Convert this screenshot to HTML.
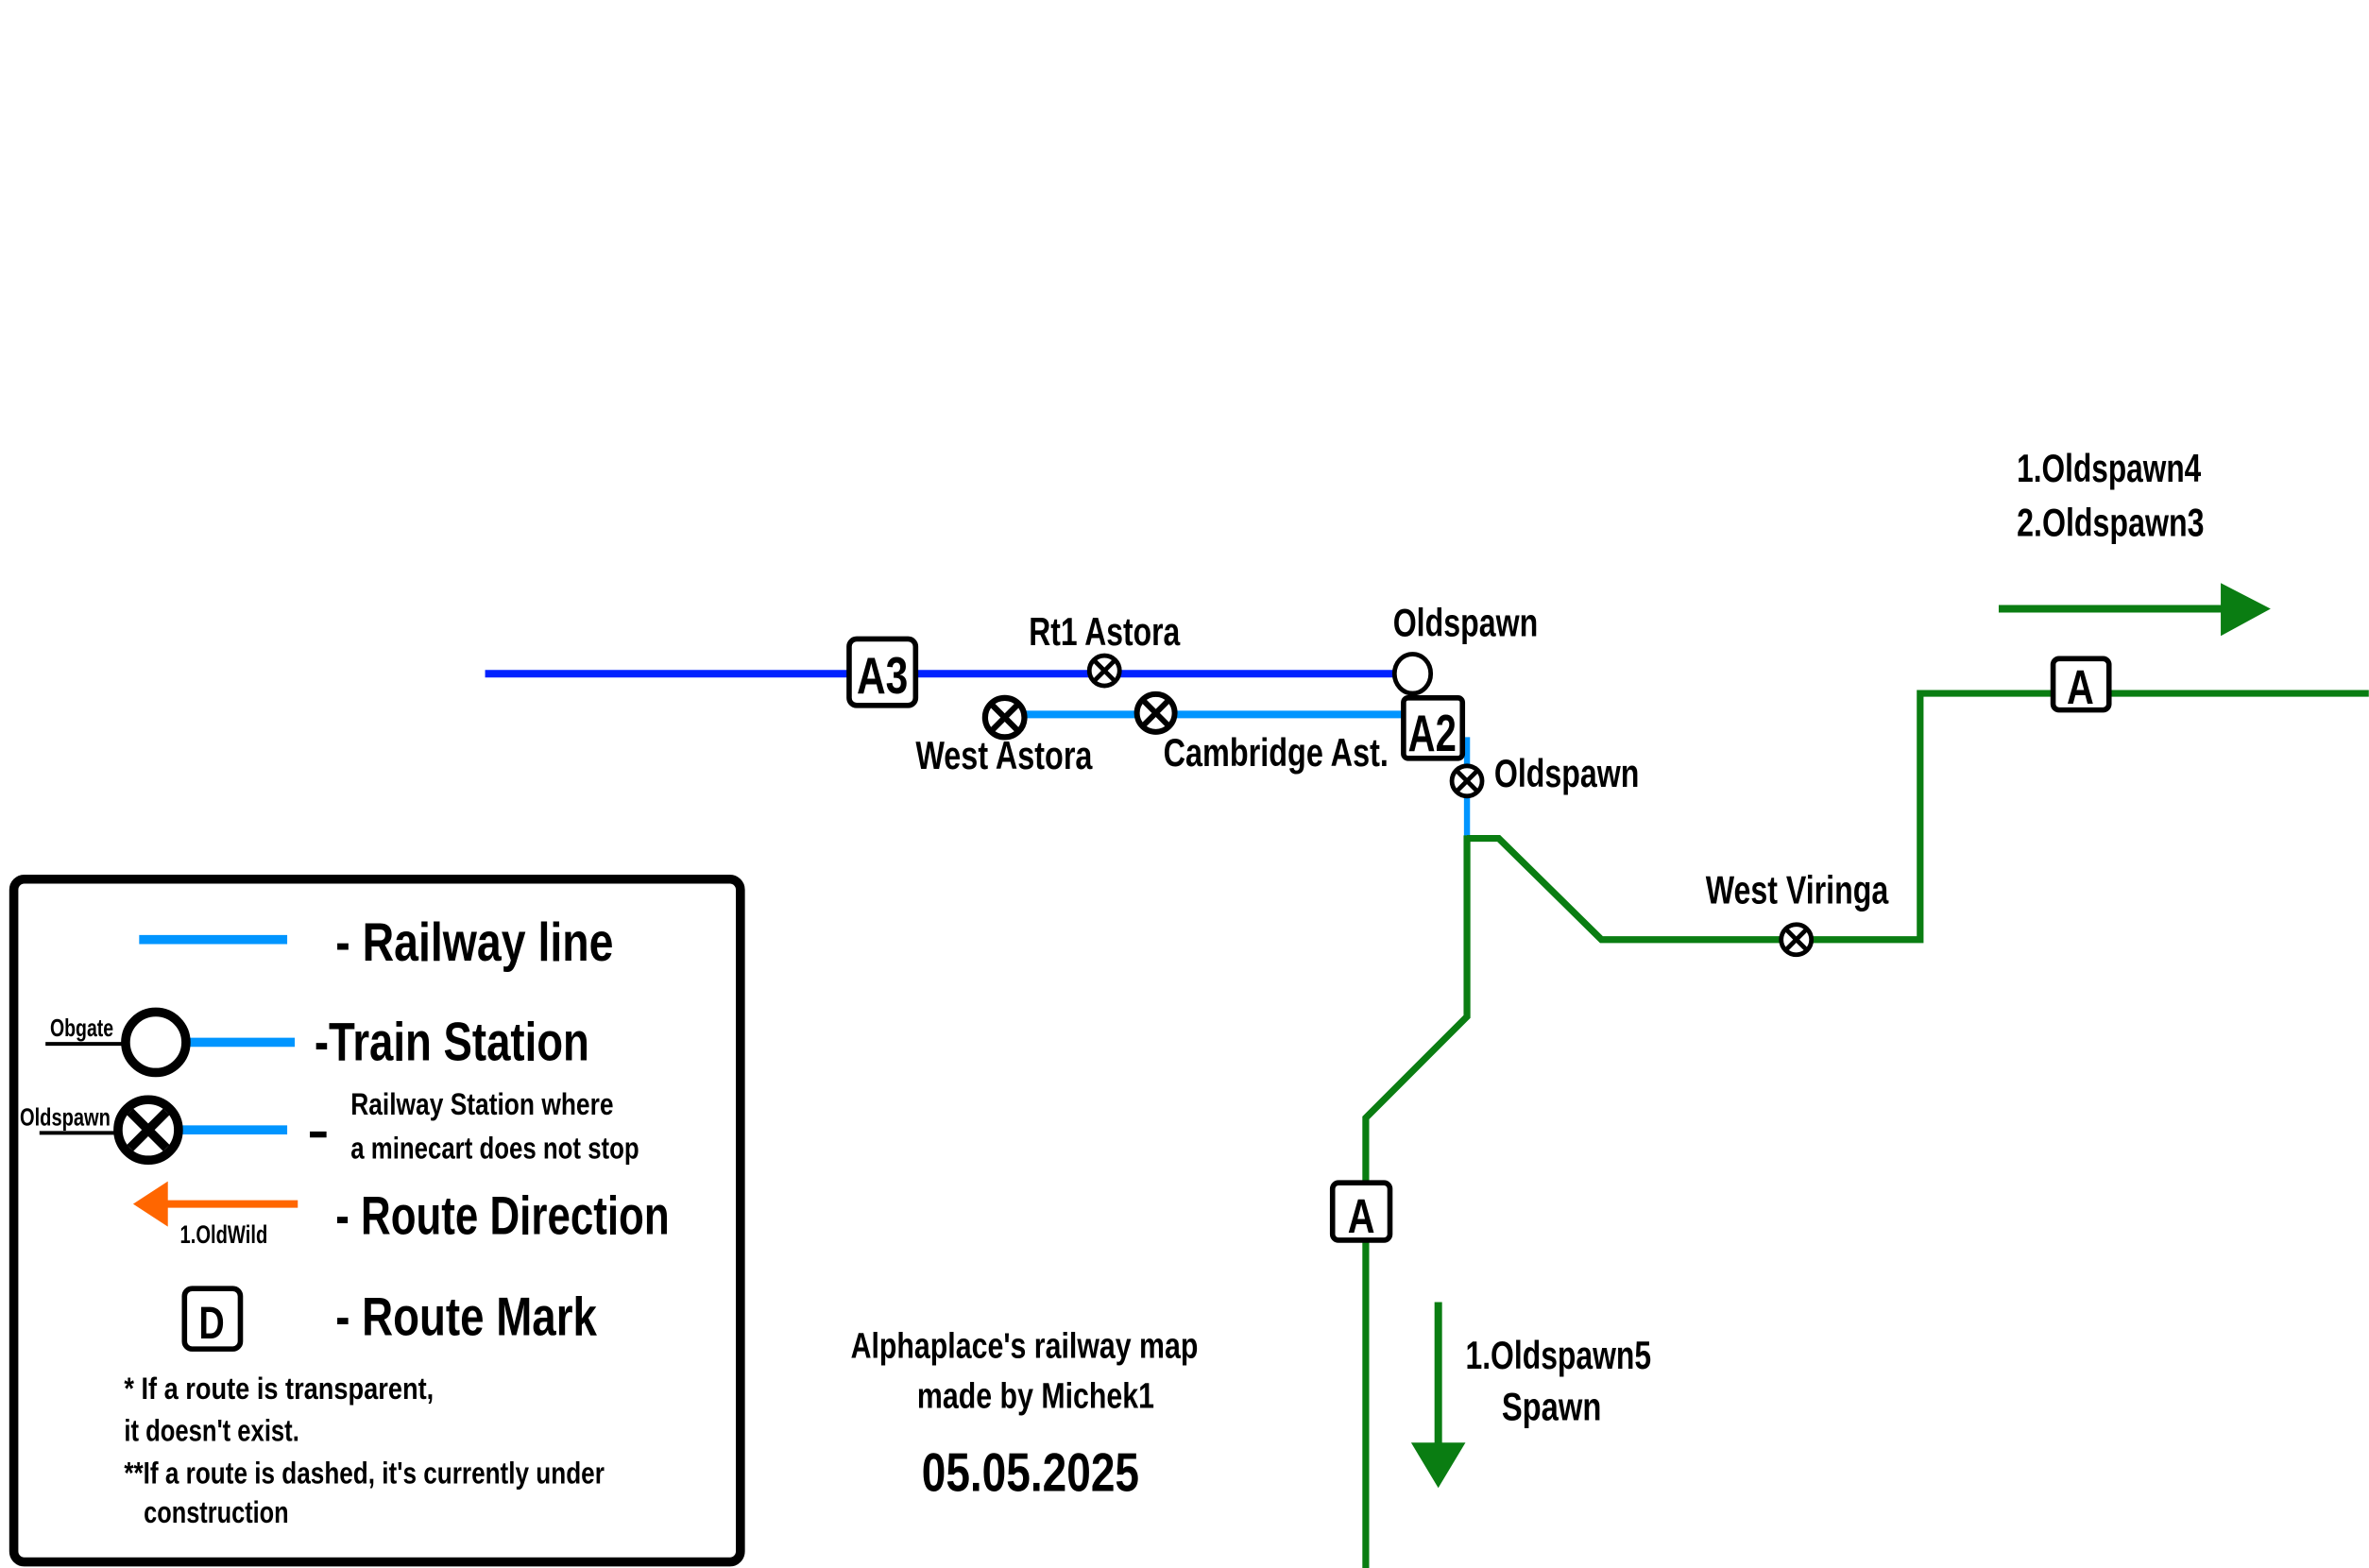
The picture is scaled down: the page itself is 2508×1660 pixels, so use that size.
<!DOCTYPE html>
<html><head><meta charset="utf-8"><style>
html,body{margin:0;padding:0;background:#fff}
svg{display:block}
text{font-family:"Liberation Sans Narrow","Liberation Sans",sans-serif;font-weight:bold;fill:#000}
</style></head><body>
<svg width="2508" height="1660" viewBox="0 0 1568 1038" xmlns="http://www.w3.org/2000/svg">
<defs>
<g id="xs"><circle cx="0" cy="0" r="10" fill="#fff" stroke="#000" stroke-width="3"/><line x1="-6.5" y1="-6.5" x2="6.5" y2="6.5" stroke="#000" stroke-width="3"/><line x1="6.5" y1="-6.5" x2="-6.5" y2="6.5" stroke="#000" stroke-width="3"/></g>
</defs>
<!-- dark blue line -->
<line x1="321" y1="446" x2="935" y2="446" stroke="#0022ff" stroke-width="5"/>
<!-- light blue -->
<line x1="665" y1="473" x2="935" y2="473" stroke="#0095ff" stroke-width="5"/>
<line x1="971" y1="488" x2="971" y2="555" stroke="#0095ff" stroke-width="4"/>
<!-- green -->
<polyline points="971,553 971,673 904,740 904,1038" fill="none" stroke="#0a7d12" stroke-width="4.5"/>
<polyline points="971,555 992,555 1060,622 1271,622 1271,459 1568,459" fill="none" stroke="#0a7d12" stroke-width="4.5"/>
<!-- stations -->
<use href="#xs" transform="translate(731,444)"/>
<ellipse cx="935" cy="446" rx="12" ry="13" fill="#fff" stroke="#000" stroke-width="3"/>
<use href="#xs" transform="translate(665,475) scale(1.3)"/>
<use href="#xs" transform="translate(765,472) scale(1.25)"/>
<use href="#xs" transform="translate(971,517)"/>
<use href="#xs" transform="translate(1189,622)"/>
<!-- route marks -->
<rect x="562" y="423" width="44" height="44" rx="5" fill="#fff" stroke="#000" stroke-width="3.5"/>
<text x="584" y="459" font-size="34" text-anchor="middle" textLength="34" lengthAdjust="spacingAndGlyphs">A3</text>
<rect x="929" y="462" width="39" height="40" rx="3" fill="#fff" stroke="#000" stroke-width="3.5"/>
<text x="948" y="497" font-size="34" text-anchor="middle" textLength="32" lengthAdjust="spacingAndGlyphs">A2</text>
<rect x="1359" y="436" width="37" height="34" rx="4" fill="#fff" stroke="#000" stroke-width="3.5"/>
<text x="1377" y="466" font-size="32" text-anchor="middle" textLength="18" lengthAdjust="spacingAndGlyphs">A</text>
<rect x="882" y="783" width="38" height="38" rx="4" fill="#fff" stroke="#000" stroke-width="3.5"/>
<text x="901" y="816" font-size="32" text-anchor="middle" textLength="18" lengthAdjust="spacingAndGlyphs">A</text>
<!-- labels -->
<text x="681" y="427" font-size="26" textLength="100" lengthAdjust="spacingAndGlyphs">Rt1 Astora</text>
<text x="922" y="421" font-size="26" textLength="96" lengthAdjust="spacingAndGlyphs">Oldspawn</text>
<text x="606" y="509" font-size="26" textLength="117" lengthAdjust="spacingAndGlyphs">West Astora</text>
<text x="770" y="507" font-size="26" textLength="149" lengthAdjust="spacingAndGlyphs">Cambridge Ast.</text>
<text x="989" y="521" font-size="26" textLength="96" lengthAdjust="spacingAndGlyphs">Oldspawn</text>
<text x="1129" y="598" font-size="26" textLength="121" lengthAdjust="spacingAndGlyphs">West Viringa</text>
<text x="1335" y="319" font-size="26" textLength="122" lengthAdjust="spacingAndGlyphs">1.Oldspawn4</text>
<text x="1335" y="355" font-size="26" textLength="124" lengthAdjust="spacingAndGlyphs">2.Oldspawn3</text>
<!-- arrows -->
<line x1="1323" y1="403" x2="1472" y2="403" stroke="#0a7d12" stroke-width="5"/>
<polygon points="1470,386 1503,403 1470,421" fill="#0a7d12"/>
<line x1="952" y1="862" x2="952" y2="957" stroke="#0a7d12" stroke-width="5"/>
<polygon points="934,955 952,985 970,955" fill="#0a7d12"/>
<text x="970" y="906" font-size="26" textLength="123" lengthAdjust="spacingAndGlyphs">1.Oldspawn5</text>
<text x="994" y="940" font-size="26" textLength="66" lengthAdjust="spacingAndGlyphs">Spawn</text>
<text x="563" y="899" font-size="24" textLength="230" lengthAdjust="spacingAndGlyphs">Alphaplace's railway map</text>
<text x="607" y="932" font-size="24" textLength="157" lengthAdjust="spacingAndGlyphs">made by Michek1</text>
<text x="610" y="987" font-size="36" textLength="144" lengthAdjust="spacingAndGlyphs">05.05.2025</text>
<!-- legend -->
<rect x="9" y="582" width="481" height="452" rx="7" fill="#fff" stroke="#000" stroke-width="6"/>
<line x1="92" y1="622" x2="190" y2="622" stroke="#0095ff" stroke-width="6"/>
<text x="222" y="636" font-size="36" textLength="184" lengthAdjust="spacingAndGlyphs">- Railway line</text>
<line x1="30" y1="691" x2="82" y2="691" stroke="#000" stroke-width="2.5"/>
<line x1="125" y1="690" x2="195" y2="690" stroke="#0095ff" stroke-width="6"/>
<circle cx="103" cy="690" r="20" fill="#fff" stroke="#000" stroke-width="6"/>
<text x="33" y="686" font-size="16" textLength="42" lengthAdjust="spacingAndGlyphs">Obgate</text>
<text x="208" y="702" font-size="36" textLength="182" lengthAdjust="spacingAndGlyphs">-Train Station</text>
<line x1="26" y1="750" x2="78" y2="750" stroke="#000" stroke-width="2.5"/>
<line x1="120" y1="748" x2="190" y2="748" stroke="#0095ff" stroke-width="6"/>
<circle cx="98" cy="748" r="20" fill="#fff" stroke="#000" stroke-width="6"/>
<line x1="86" y1="736" x2="110" y2="760" stroke="#000" stroke-width="6"/>
<line x1="110" y1="736" x2="86" y2="760" stroke="#000" stroke-width="6"/>
<text x="13" y="745" font-size="16" textLength="60" lengthAdjust="spacingAndGlyphs">Oldspawn</text>
<line x1="205" y1="751" x2="216" y2="751" stroke="#000" stroke-width="4"/>
<text x="232" y="738" font-size="20" textLength="174" lengthAdjust="spacingAndGlyphs">Railway Station where</text>
<text x="232" y="767" font-size="20" textLength="191" lengthAdjust="spacingAndGlyphs">a minecart does not stop</text>
<line x1="108" y1="797" x2="197" y2="797" stroke="#ff6600" stroke-width="5"/>
<polygon points="88,797 111,782 111,812" fill="#ff6600"/>
<text x="119" y="823" font-size="17" textLength="58" lengthAdjust="spacingAndGlyphs">1.OldWild</text>
<text x="222" y="817" font-size="36" textLength="221" lengthAdjust="spacingAndGlyphs">- Route Direction</text>
<rect x="122" y="853" width="37" height="40" rx="5" fill="#fff" stroke="#000" stroke-width="3.5"/>
<text x="140" y="886" font-size="30" text-anchor="middle" textLength="17" lengthAdjust="spacingAndGlyphs">D</text>
<text x="222" y="884" font-size="36" textLength="173" lengthAdjust="spacingAndGlyphs">- Route Mark</text>
<text x="82" y="926" font-size="20" textLength="205" lengthAdjust="spacingAndGlyphs">* If a route is  transparent,</text>
<text x="82" y="954" font-size="20" textLength="116" lengthAdjust="spacingAndGlyphs">it doesn't exist.</text>
<text x="82" y="982" font-size="20" textLength="318" lengthAdjust="spacingAndGlyphs">**If a route is dashed, it's currently under</text>
<text x="95" y="1008" font-size="20" textLength="96" lengthAdjust="spacingAndGlyphs">construction</text>
</svg>
</body></html>
